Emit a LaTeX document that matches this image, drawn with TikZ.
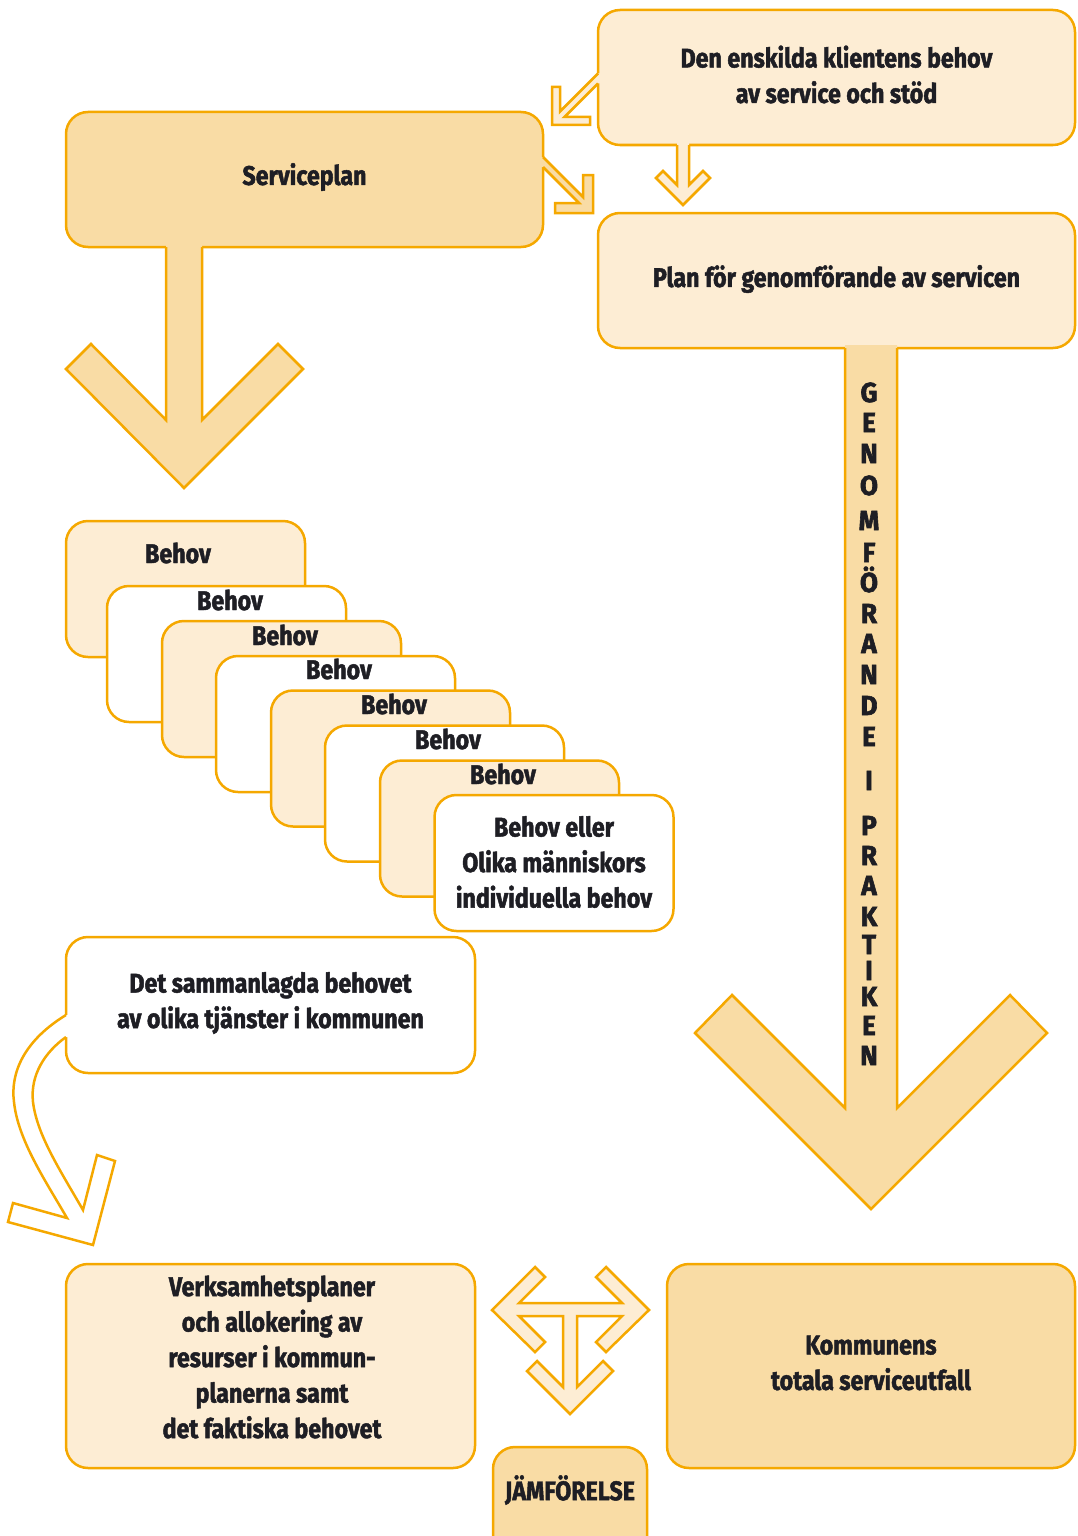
\documentclass[tikz,border=0pt]{standalone}
\usepackage{fontspec}
\newfontfamily\cf{Fira Sans}[FakeStretch=0.86, BoldFeatures={FakeBold=1.7}]
\newfontfamily\vf{Fira Sans}[FakeStretch=0.95, BoldFeatures={FakeBold=2.2}]
\definecolor{oc}{RGB}{245,168,0}
\definecolor{lc}{RGB}{253,237,212}
\definecolor{dc}{RGB}{249,220,165}
\definecolor{tc}{RGB}{30,30,36}
\tikzset{
  box/.style={draw=oc, line width=2.5pt, rounded corners=22pt, inner sep=0pt},
  lbox/.style={box, fill=lc},
  dbox/.style={box, fill=dc},
  wbox/.style={box, fill=white},
  txt/.style={text=tc, font=\cf\bfseries\fontsize{27}{35.5}\selectfont, align=center, inner sep=0pt},
  vtxt/.style={text=tc, font=\vf\bfseries\fontsize{27.5}{30}\selectfont, inner sep=0pt, anchor=base},
  arrline/.style={draw=oc, line width=2.5pt, line join=miter},
}
\begin{document}
\begin{tikzpicture}[x=1pt,y=-1pt]
\useasboundingbox (0,0) rectangle (1077,1536);
\clip (0,0) rectangle (1077,1536);

% top boxes
\node[lbox, minimum width=477pt, minimum height=135pt] (den) at (836.5,77.5) {};
\node[txt] (dent) at (836.5,74.5) {Den enskilda klientens behov\\av service och stöd};
\node[dbox, minimum width=477pt, minimum height=135pt] (sp) at (304.5,179.5) {};
\node[txt] (spt) at (304.5,177) {Serviceplan};
\node[lbox, minimum width=477pt, minimum height=135pt] (plan) at (836.5,280.5) {};
\node[txt] (plant) at (836.5,279) {Plan för genomförande av servicen};

% small arrow den -> serviceplan
\fill[lc] (601,73.5) -- (598,73.5) -- (560,111.5) -- (560,87) -- (552,87) -- (552,125) -- (590,125) -- (590,117) -- (564.5,117) -- (598,83.5) -- (601,83.5) -- cycle;
\draw[arrline] (598,73.5) -- (560,111.5) -- (560,87) -- (552,87) -- (552,125) -- (590,125) -- (590,117) -- (564.5,117) -- (598,83.5);

% small arrow serviceplan -> plan
\fill[dc] (540,157) -- (543,157) -- (583,197) -- (583,175) -- (593,175) -- (593,213) -- (555,213) -- (555,203) -- (579,203) -- (543,167) -- (540,167) -- cycle;
\draw[arrline] (543,157) -- (583,197) -- (583,175) -- (593,175) -- (593,213) -- (555,213) -- (555,203) -- (579,203) -- (543,167);

% small arrow den -> plan
\fill[lc] (677,142) -- (677,185) -- (663,171) -- (656,178) -- (683,205) -- (710,178) -- (703,171) -- (689,185) -- (689,142) -- cycle;
\draw[arrline] (677,145) -- (677,185) -- (663,171) -- (656,178) -- (683,205) -- (710,178) -- (703,171) -- (689,185) -- (689,145);

% big arrow under serviceplan
\fill[dc] (166,244) -- (166,420) -- (91,344) -- (66,369) -- (184,488) -- (303,369) -- (278,344) -- (202,420) -- (202,244) -- cycle;
\draw[arrline] (166,247) -- (166,420) -- (91,344) -- (66,369) -- (184,488) -- (303,369) -- (278,344) -- (202,420) -- (202,247);

% big right arrow
\fill[dc] (845,345) -- (845,1108) -- (732,995) -- (695,1033) -- (871,1209) -- (1047,1033) -- (1010,995) -- (897,1108) -- (897,345) -- cycle;
\draw[arrline] (845,348) -- (845,1108) -- (732,995) -- (695,1033) -- (871,1209) -- (1047,1033) -- (1010,995) -- (897,1108) -- (897,348);

% vertical text
\foreach \l/\y [count=\i] in {G/402,E/432,N/463,O/495,M/530,F/562,Ö/592,R/623,A/653,N/684,D/715,E/746,I/790,P/835,R/865,A/895,K/926,T/954,I/980,K/1006,E/1035,N/1065}
  \node[vtxt] (v\i) at (869,\y) {\l};

% Behov stack
\node[lbox, minimum width=239pt, minimum height=136pt] (b1) at (185.5,589) {};
\node[txt] (b1t) at (178,553) {Behov};
\node[wbox, minimum width=239pt, minimum height=136pt] (b2) at (226.5,654) {};
\node[txt] (b2t) at (230,600) {Behov};
\node[lbox, minimum width=239pt, minimum height=136pt] (b3) at (281.5,689) {};
\node[txt] (b3t) at (285,635) {Behov};
\node[wbox, minimum width=239pt, minimum height=136pt] (b4) at (335.5,724) {};
\node[txt] (b4t) at (339,669) {Behov};
\node[lbox, minimum width=239pt, minimum height=136pt] (b5) at (390.5,758.5) {};
\node[txt] (b5t) at (394,704) {Behov};
\node[wbox, minimum width=239pt, minimum height=136pt] (b6) at (444.5,793.5) {};
\node[txt] (b6t) at (448,739) {Behov};
\node[lbox, minimum width=239pt, minimum height=136pt] (b7) at (499.5,828.5) {};
\node[txt] (b7t) at (503,774) {Behov};
\node[wbox, minimum width=239pt, minimum height=136pt] (b8) at (554,863) {};
\node[txt] (b8t) at (554,862) {Behov eller\\Olika människors\\individuella behov};

% sum box
\node[wbox, minimum width=409pt, minimum height=136pt] (sum) at (270.5,1005) {};
\node[txt] (sumt) at (270.5,1003) {Det sammanlagda behovet\\av olika tjänster i kommunen};

% curved arrow
\fill[white] (69,1015) -- (66,1015) .. controls (25,1040) and (10,1072) .. (14,1102) .. controls (18,1140) and (45,1180) .. (67,1218) -- (13,1203) -- (8,1222) -- (93,1245) -- (115,1161) -- (97,1155) -- (83,1210) .. controls (60,1170) and (37,1135) .. (33,1102) .. controls (30,1075) and (45,1052) .. (66,1037) -- (69,1037) -- cycle;
\draw[arrline] (66,1015) .. controls (25,1040) and (10,1072) .. (14,1102) .. controls (18,1140) and (45,1180) .. (67,1218) -- (13,1203) -- (8,1222) -- (93,1245) -- (115,1161) -- (97,1155) -- (83,1210) .. controls (60,1170) and (37,1135) .. (33,1102) .. controls (30,1075) and (45,1052) .. (66,1037);

% bottom boxes
\node[lbox, minimum width=409pt, minimum height=204pt] (verk) at (270.5,1366) {};
\node[txt] (verkt) at (272,1357) {Verksamhetsplaner\\och allokering av\\resurser i kommun-\\planerna samt\\det faktiska behovet};
\node[dbox, minimum width=408pt, minimum height=204pt] (komm) at (871,1366) {};
\node[txt] (kommt) at (871,1363) {Kommunens\\totala serviceutfall};
\node[dbox, minimum width=154pt, minimum height=130pt] (jamf) at (570,1512) {};
\node[txt] (jamft) at (570,1490) {JÄMFÖRELSE};

% comparison arrow
\filldraw[lc, draw=oc, line width=2.5pt, line join=miter] (492,1310) -- (535,1267) -- (545,1277) -- (519,1303) -- (622,1303) -- (596,1277) -- (606,1267) -- (649,1310) -- (606,1352) -- (596,1342) -- (622,1316) -- (577,1316) -- (577,1387) -- (603,1361) -- (613,1371) -- (570,1414) -- (527,1371) -- (537,1361) -- (563,1387) -- (563,1316) -- (519,1316) -- (545,1342) -- (535,1352) -- cycle;
\end{tikzpicture}
\end{document}
